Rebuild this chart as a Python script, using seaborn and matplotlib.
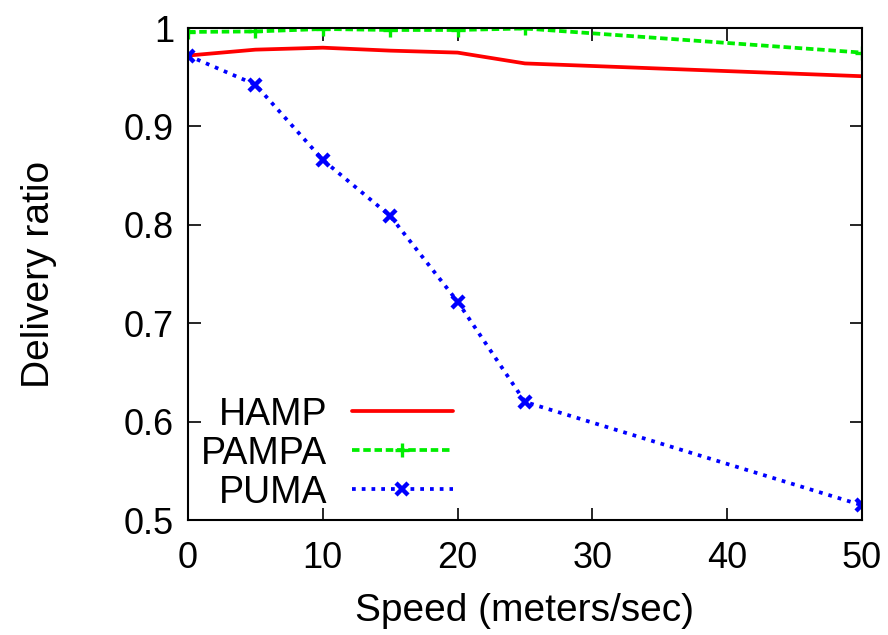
import numpy as np
import pandas as pd
import seaborn as sns
import matplotlib.pyplot as plt
from matplotlib.ticker import FormatStrFormatter

speed = [0, 5, 10, 15, 20, 25, 50]
hamp = [0.972, 0.978, 0.980, 0.977, 0.975, 0.964, 0.951]
pampa = [0.996, 0.9965, 0.999, 0.998, 0.998, 0.9995, 0.975]
puma = [0.972, 0.9425, 0.866, 0.809, 0.722, 0.620, 0.515]

sns.set_style('ticks', {'xtick.direction': 'in', 'ytick.direction': 'in'})
plt.rcParams['font.family'] = ['Liberation Sans', 'DejaVu Sans']
plt.rcParams['text.color'] = 'black'
plt.rcParams['axes.labelcolor'] = 'black'

fig = plt.figure(figsize=(8.88, 6.35), dpi=100)
ax = fig.add_axes([0.2117, 0.1811, 0.759, 0.7748])

sns.lineplot(x=speed, y=hamp, ax=ax, color='#ff0000', lw=2.7, label='HAMP')
sns.lineplot(x=speed, y=pampa, ax=ax, color='#00ee00', lw=2.7,
             marker='+', markersize=10, markeredgewidth=2.4,
             markeredgecolor='#00ee00', label='PAMPA')
ax.lines[-1].set_dashes((2, 1))
sns.lineplot(x=speed, y=puma, ax=ax, color='#0000ff', lw=2.7,
             marker='x', markersize=8, markeredgewidth=3.2,
             markeredgecolor='#0000ff', label='PUMA')
ax.lines[-1].set_dashes((1, 1.6))

ax.set_xlim(0, 50)
ax.set_ylim(0.5, 1)
ax.set_xticks([0, 10, 20, 30, 40, 50])
ax.set_yticks([0.5, 0.6, 0.7, 0.8, 0.9, 1.0])
ax.yaxis.set_major_formatter(FormatStrFormatter('%g'))
ax.tick_params(which='both', top=True, right=True, length=9, width=1.2,
               labelsize=26, colors='black')
ax.tick_params(axis='x', pad=15)
ax.tick_params(axis='y', pad=10)
for s in ax.spines.values():
    s.set_linewidth(1.5)
    s.set_color('black')

ax.set_xlabel('Speed (meters/sec)', fontsize=28, labelpad=12)
ax.set_ylabel('Delivery ratio', fontsize=28, labelpad=48)

leg = ax.legend(loc='center right', bbox_to_anchor=(0.393, 0.135), frameon=False,
                markerfirst=False, fontsize=27, handlelength=2.7, handletextpad=0.65,
                labelspacing=0.08, borderpad=0, borderaxespad=0, numpoints=1)

fig.savefig('out.png', dpi=100)
